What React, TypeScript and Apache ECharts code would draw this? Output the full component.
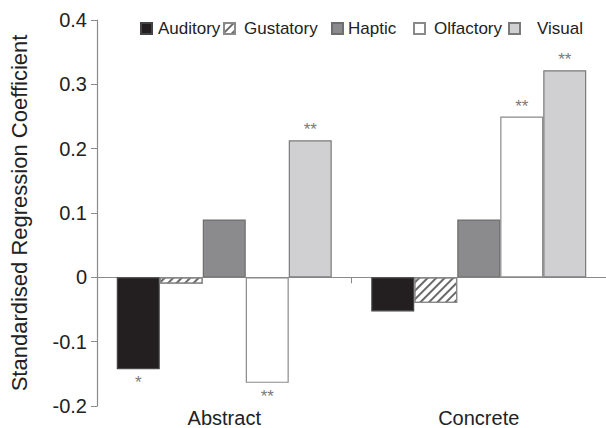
import React, { useEffect, useRef } from "react";
import * as echarts from "echarts";

const categories = ["Abstract", "Concrete"];
const seriesNames = ["Auditory", "Gustatory", "Haptic", "Olfactory", "Visual"];
const auditory = [-0.143, -0.053];
const gustatory = [-0.01, -0.04];
const haptic = [0.09, 0.09];
const olfactory = [-0.164, 0.25];
const visual = [0.213, 0.322];
const auditorySig = ["*", ""];
const gustatorySig = ["", ""];
const hapticSig = ["", ""];
const olfactorySig = ["**", "**"];
const visualSig = ["**", "**"];

const FONT = "'Liberation Sans', Arial, Helvetica, sans-serif";

export default function App() {
  const ref = useRef<HTMLDivElement>(null);
  useEffect(() => {
    document.body.style.margin = "0";
    if (!ref.current) return;
    const chart = echarts.init(ref.current, undefined, { renderer: "svg" });

    const values = [auditory, gustatory, haptic, olfactory, visual];
    const sigs = [auditorySig, gustatorySig, hapticSig, olfactorySig, visualSig];
    const fills = ["#231f20", "#ffffff", "#8b8b8d", "#ffffff", "#d0d0d2"];
    const borders = ["#444444", "#8a8a8a", "#6e6e6e", "#8a8a8a", "#7a7a7a"];

    const series = seriesNames.map((name, si) => ({
      name,
      type: "bar",
      xAxisIndex: 0,
      barWidth: 43,
      barGap: "0%",
      itemStyle: {
        color: fills[si],
        borderColor: borders[si],
        borderWidth: 1.2,
        ...(si === 1
          ? {
              decal: {
                symbol: "rect",
                symbolSize: 1,
                color: "#6a6a6a",
                backgroundColor: "#ffffff",
                dashArrayX: [1, 0],
                dashArrayY: [1.1, 3.4],
                rotation: -Math.PI / 4,
              },
            }
          : {}),
      },
      data: values[si].map((v, i) => ({
        value: v,
        label: sigs[si][i]
          ? {
              show: true,
              formatter: sigs[si][i],
              position: v < 0 ? "bottom" : "top",
              distance: v < 0 ? 5 : 2,
              fontSize: 17,
              color: "#7a7a7a",
              fontFamily: FONT,
            }
          : { show: false },
      })),
    }));

    const legendIconLeft = [135, 218, 326, 408, 503];
    const legendTextPad = [1, 4, 0, 4, 12];
    const legends = seriesNames.map((name, i) => ({
      data: [name],
      left: legendIconLeft[i],
      top: 15,
      itemWidth: 11,
      itemHeight: 11,
      itemGap: 0,
      icon: "rect",
      selectedMode: false,
      textStyle: {
        fontSize: 17,
        color: "#222222",
        fontFamily: FONT,
        padding: [0, 0, 0, legendTextPad[i]],
      },
    }));

    chart.setOption({
      animation: false,
      backgroundColor: "#ffffff",
      legend: legends,
      grid: { left: 93, top: 20, width: 515, height: 386, containLabel: false },
      xAxis: [
        {
          type: "category",
          data: categories,
          axisLine: { onZero: true, lineStyle: { color: "#8a8a8a", width: 1.2 } },
          axisTick: { show: true, length: 6, lineStyle: { color: "#8a8a8a" } },
          axisLabel: { show: false },
          splitLine: { show: false },
        },
        {
          type: "category",
          data: categories,
          position: "bottom",
          axisLine: { show: false },
          axisTick: { show: false },
          axisLabel: { show: true, fontSize: 20, color: "#222222", fontFamily: FONT, margin: 2 },
          splitLine: { show: false },
        },
      ],
      yAxis: {
        type: "value",
        min: -0.2,
        max: 0.4,
        interval: 0.1,
        name: "Standardised Regression Coefficient",
        nameLocation: "middle",
        nameGap: 67,
        nameTextStyle: { fontSize: 22, color: "#222222", fontFamily: FONT },
        axisLine: { show: true, lineStyle: { color: "#8a8a8a", width: 1.2 } },
        axisTick: { show: true, length: 6, lineStyle: { color: "#8a8a8a" } },
        axisLabel: {
          fontSize: 20,
          color: "#222222",
          fontFamily: FONT,
          margin: 10,
          formatter: (v: number) => (Math.abs(v) < 1e-9 ? "0" : v.toFixed(1)),
        },
        splitLine: { show: false },
      },
      series,
    });
    return () => chart.dispose();
  }, []);
  return <div ref={ref} style={{ width: 606, height: 428 }} />;
}
